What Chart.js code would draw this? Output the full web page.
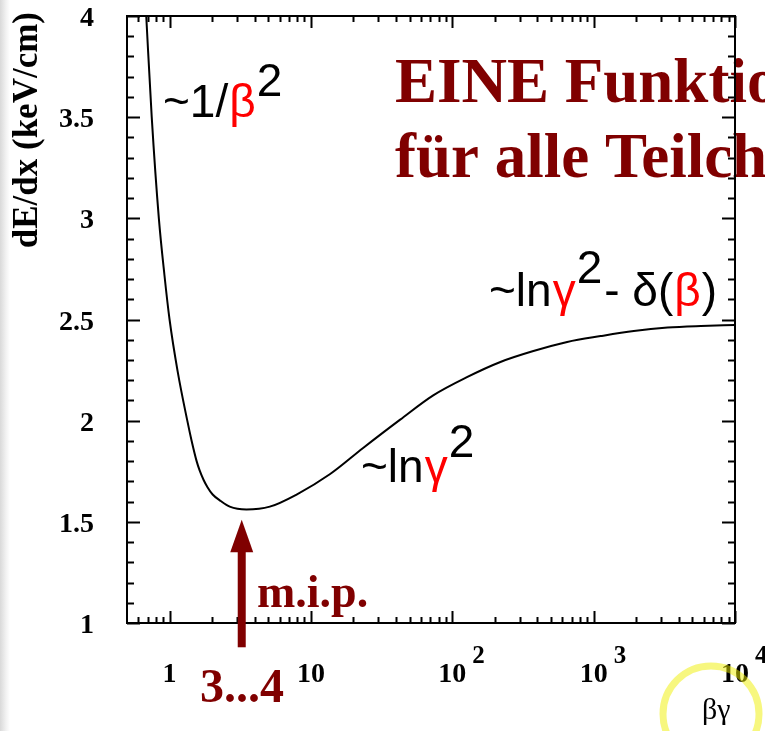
<!DOCTYPE html>
<html>
<head>
<meta charset="utf-8">
<script src="https://cdn.jsdelivr.net/npm/chart.js@4.4.0/dist/chart.umd.min.js"></script>
<style>
  html, body { margin: 0; padding: 0; }
  body { background: linear-gradient(to right, #d9d9d9 0px, #f2f2f2 6px, #ffffff 10px); }
  #chart { display: block; }
</style>
</head>
<body>
<canvas id="chart" width="765" height="731"></canvas>
<script>
// curve: beta*gamma vs dE/dx
const betaGamma = [0.684, 0.748, 0.84, 0.92, 1.0, 1.14, 1.335, 1.432, 1.554, 1.632, 1.742, 1.86, 2.018, 2.30, 2.665, 3.5, 5.12, 7.92, 13.6, 23.4, 42.8, 73.3, 127, 219, 375, 650, 1122, 1923, 3334, 5740, 10000];
const dEdx = [4.0, 3.5, 3.0, 2.72, 2.5, 2.245, 2.0, 1.901, 1.80, 1.754, 1.707, 1.670, 1.635, 1.603, 1.575, 1.561, 1.575, 1.635, 1.735, 1.865, 2.005, 2.125, 2.215, 2.29, 2.344, 2.389, 2.418, 2.443, 2.46, 2.468, 2.473];

const yTickLabels = ['1', '1.5', '2', '2.5', '3', '3.5', '4'];
const xDecades = [0, 1, 2, 3, 4];
const mipPos = 3.24;

const DARKRED = '#800000';
const RED = '#ff0000';
const SERIF = '"Liberation Serif", "DejaVu Serif", serif';
const SANS = '"Liberation Sans", Arial, sans-serif';

// draw a formula as consecutive pieces: [text, color, raise]
function formula(ctx, parts, x, baseline, size) {
    ctx.font = size + 'px ' + SANS;
    ctx.textAlign = 'left';
    ctx.textBaseline = 'alphabetic';
    let cx = x;
    parts.forEach(p => {
        ctx.fillStyle = p[1] || '#000';
        ctx.fillText(p[0], cx, baseline - (p[2] || 0));
        cx += ctx.measureText(p[0]).width + (p[2] ? 2 : 1);
    });
}

const decor = {
    id: 'decor',
    beforeDraw(chart) {
        const ctx = chart.ctx;
        ctx.save();
        ctx.fillStyle = DARKRED;
        ctx.font = 'bold 63px ' + SERIF;
        ctx.textAlign = 'left';
        ctx.textBaseline = 'alphabetic';
        ctx.fillText('EINE Funktion', 395, 102);
        ctx.fillText('für alle Teilchen', 395, 177);
        ctx.restore();
    },
    afterDraw(chart) {
        const ctx = chart.ctx;
        const a = chart.chartArea;
        const xs = chart.scales.x;
        const ys = chart.scales.y;
        ctx.save();

        // frame
        ctx.strokeStyle = '#000';
        ctx.lineWidth = 2;
        ctx.strokeRect(a.left, a.top, a.right - a.left, a.bottom - a.top);

        // y ticks, both sides, pointing in
        for (let i = 0; i <= 30; i++) {
            const v = 1 + i * 0.1;
            const py = Math.round(ys.getPixelForValue(v)) + 0.5;
            const len = (i % 5 === 0) ? 13 : 7;
            ctx.beginPath();
            ctx.moveTo(a.left, py); ctx.lineTo(a.left + len, py);
            ctx.moveTo(a.right, py); ctx.lineTo(a.right - len, py);
            ctx.stroke();
        }

        // x ticks, bottom and top
        const xt = [];
        [0.6, 0.7, 0.8, 0.9].forEach(v => xt.push([v, false]));
        for (let k = 0; k < 4; k++) {
            const d = Math.pow(10, k);
            xt.push([d, true]);
            for (let m = 2; m <= 9; m++) xt.push([m * d, false]);
        }
        xt.push([10000, true]);
        xt.forEach(t => {
            const px = Math.round(xs.getPixelForValue(t[0])) + 0.5;
            const len = t[1] ? 12 : 6;
            ctx.beginPath();
            ctx.moveTo(px, a.bottom); ctx.lineTo(px, a.bottom - len);
            ctx.moveTo(px, a.top); ctx.lineTo(px, a.top + len);
            ctx.stroke();
        });

        // y tick labels
        ctx.fillStyle = '#000';
        ctx.font = 'bold 28px ' + SERIF;
        ctx.textAlign = 'right';
        ctx.textBaseline = 'alphabetic';
        yTickLabels.forEach(lbl => {
            const py = ys.getPixelForValue(parseFloat(lbl));
            ctx.fillText(lbl, 94, py + 10);
        });

        // x tick labels
        xDecades.forEach(k => {
            const px = xs.getPixelForValue(Math.pow(10, k));
            ctx.font = 'bold 28px ' + SERIF;
            ctx.textAlign = 'center';
            if (k < 2) {
                ctx.fillText(k === 0 ? '1' : '10', px, 682);
            } else {
                ctx.fillText('10', px, 682);
                const w = ctx.measureText('10').width;
                ctx.textAlign = 'left';
                ctx.font = 'bold 25px ' + SERIF;
                ctx.fillText(String(k), px + w / 2 + 6, 663);
            }
        });

        // y axis title
        ctx.save();
        ctx.translate(28, 12);
        ctx.rotate(-Math.PI / 2);
        ctx.font = 'bold 35px ' + SERIF;
        ctx.textAlign = 'right';
        ctx.textBaseline = 'middle';
        ctx.fillText('dE/dx (keV/cm)', 0, 0);
        ctx.restore();

        // formula labels
        formula(ctx, [['~1/'], ['β', RED], ['2', '#000', 21]], 163, 117, 46);
        formula(ctx, [['~ln'], ['γ', RED], ['2', '#000', 25]], 361, 482, 46);
        formula(ctx, [['~ln'], ['γ', RED], ['2', '#000', 23], ['- δ('], ['β', RED], [')']], 489, 306, 46);

        // m.i.p. arrow
        const ax = xs.getPixelForValue(mipPos);
        const tip = ys.getPixelForValue(1.51);
        const headBase = ys.getPixelForValue(1.35);
        const tail = ys.getPixelForValue(0.88);
        ctx.fillStyle = DARKRED;
        ctx.fillRect(ax - 4, headBase - 1, 8, tail - headBase + 1);
        ctx.beginPath();
        ctx.moveTo(ax, tip);
        ctx.lineTo(ax - 11.5, headBase);
        ctx.lineTo(ax + 11.5, headBase);
        ctx.closePath();
        ctx.fill();

        ctx.font = 'bold 46px ' + SERIF;
        ctx.textAlign = 'left';
        ctx.textBaseline = 'alphabetic';
        ctx.fillText('m.i.p.', 257, 607);
        ctx.font = 'bold 48px ' + SERIF;
        ctx.fillText('3...4', 200, 702);

        // x axis title with highlight ring
        ctx.fillStyle = '#000';
        ctx.font = '30px ' + SERIF;
        ctx.fillText('βγ', 702, 719);
        ctx.strokeStyle = 'rgba(240, 240, 0, 0.5)';
        ctx.lineWidth = 7;
        ctx.beginPath();
        ctx.arc(711, 714, 48, 0, Math.PI * 2);
        ctx.stroke();

        ctx.restore();
    }
};

new Chart(document.getElementById('chart'), {
    type: 'line',
    data: {
        datasets: [{
            data: betaGamma.map((x, i) => ({ x, y: dEdx[i] })),
            borderColor: '#000',
            borderWidth: 2,
            pointRadius: 0,
            fill: false,
            cubicInterpolationMode: 'monotone'
        }]
    },
    options: {
        responsive: false,
        animation: false,
        devicePixelRatio: 1,
        layout: { padding: { left: 127, right: 30, top: 16, bottom: 108 } },
        scales: {
            x: { type: 'logarithmic', min: 0.5, max: 10000, display: false },
            y: { type: 'linear', min: 1, max: 4, display: false }
        },
        plugins: {
            legend: { display: false },
            tooltip: { enabled: false }
        }
    },
    plugins: [decor]
});
</script>
</body>
</html>
